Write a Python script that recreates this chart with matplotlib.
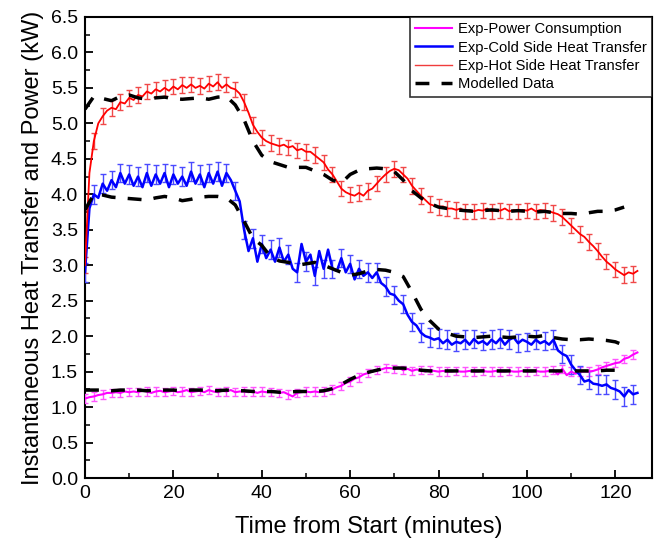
import matplotlib
matplotlib.use("Agg")
from matplotlib import pyplot as plt
from matplotlib.ticker import MultipleLocator, FormatStrFormatter
from matplotlib.lines import Line2D

# experimental data, sampled every minute
time_exp = list(range(0, 126))

hot_exp = [3.0, 4.3, 4.75, 5.0, 5.1, 5.18, 5.22, 5.2, 5.3, 5.28,
           5.36, 5.33, 5.4, 5.38, 5.45, 5.42, 5.48, 5.45, 5.5, 5.46,
           5.52, 5.48, 5.54, 5.5, 5.55, 5.5, 5.53, 5.49, 5.56, 5.52,
           5.58, 5.5, 5.55, 5.5, 5.48, 5.42, 5.3, 5.15, 4.98, 4.88,
           4.8, 4.75, 4.72, 4.7, 4.68, 4.7, 4.66, 4.68, 4.62, 4.64,
           4.6, 4.6, 4.55, 4.5, 4.45, 4.35, 4.28, 4.18, 4.08, 4.03,
           4.0, 3.98, 4.02, 3.98, 4.05, 4.08, 4.15, 4.22, 4.28, 4.33,
           4.36, 4.34, 4.28, 4.22, 4.12, 4.05, 3.98, 3.92, 3.86, 3.84,
           3.82, 3.83, 3.8, 3.8, 3.78, 3.8, 3.76, 3.78, 3.76, 3.78,
           3.77, 3.8, 3.76, 3.78, 3.77, 3.8, 3.76, 3.78, 3.76, 3.78,
           3.77, 3.8, 3.76, 3.78, 3.77, 3.76, 3.74, 3.72, 3.68, 3.62,
           3.56, 3.5, 3.44, 3.4, 3.33, 3.27, 3.2, 3.12, 3.05, 3.0,
           2.94, 2.9, 2.86, 2.9, 2.88, 2.92]

cold_exp = [2.9, 3.8, 4.0, 3.95, 4.15, 4.05, 4.2, 4.1, 4.3, 4.15,
            4.28, 4.12, 4.25, 4.1, 4.3, 4.12, 4.28, 4.15, 4.3, 4.1,
            4.28, 4.15, 4.25, 4.12, 4.32, 4.15, 4.28, 4.1, 4.3, 4.15,
            4.32, 4.12, 4.3, 4.2, 4.05, 3.9, 3.5, 3.2, 3.38, 3.05,
            3.3, 3.1, 3.22, 3.05, 3.25, 3.05, 3.15, 2.95, 2.9, 3.3,
            3.05, 3.15, 2.85, 3.2, 2.95, 3.22, 2.95, 2.92, 3.1, 2.9,
            3.02, 2.8, 2.95, 2.85, 2.9, 2.82, 2.9, 2.75, 2.7, 2.6,
            2.58, 2.5, 2.45, 2.3, 2.2, 2.15, 2.05, 2.0, 1.98, 1.95,
            1.97, 1.9, 1.95, 1.88, 1.92, 1.9, 1.95, 1.88, 1.96, 1.9,
            1.93, 1.88, 1.95, 1.9, 1.97, 1.88, 1.95, 1.98, 1.9, 1.95,
            1.92, 1.88, 1.95, 1.9, 1.93, 1.88, 1.95, 1.8, 1.75, 1.72,
            1.6, 1.52, 1.45, 1.36, 1.38, 1.33, 1.32, 1.3, 1.32, 1.27,
            1.25, 1.22, 1.15, 1.24, 1.18, 1.2]

power_exp = [1.12, 1.14, 1.15, 1.17, 1.18, 1.2, 1.2, 1.21, 1.2, 1.22,
             1.21, 1.22, 1.21, 1.23, 1.22, 1.2, 1.22, 1.23, 1.21, 1.22,
             1.23, 1.21, 1.22, 1.24, 1.21, 1.22, 1.23, 1.21, 1.24, 1.22,
             1.21, 1.23, 1.22, 1.24, 1.21, 1.22, 1.22, 1.21, 1.22, 1.2,
             1.22, 1.21, 1.21, 1.22, 1.2, 1.21, 1.18, 1.15, 1.2, 1.21,
             1.22, 1.21, 1.22, 1.21, 1.22, 1.23, 1.25, 1.28, 1.3, 1.34,
             1.36, 1.4, 1.42, 1.46, 1.48, 1.5, 1.52, 1.53, 1.55, 1.55,
             1.54, 1.56, 1.52, 1.54, 1.51, 1.53, 1.52, 1.5, 1.52, 1.51,
             1.5, 1.51, 1.5, 1.5, 1.51, 1.5, 1.5, 1.51, 1.5, 1.5,
             1.51, 1.5, 1.5, 1.51, 1.5, 1.5, 1.51, 1.5, 1.5, 1.51,
             1.5, 1.5, 1.51, 1.5, 1.5, 1.51, 1.52, 1.46, 1.54, 1.45,
             1.5, 1.47, 1.5, 1.5, 1.5, 1.51, 1.53, 1.56, 1.58, 1.6,
             1.62, 1.63, 1.68, 1.7, 1.74, 1.77]

hot_err = 0.11
cold_err = 0.13
power_err = 0.06

# modelled data, every 2 minutes
time_model = list(range(0, 124, 2))

hot_model = [5.2, 5.38, 5.35, 5.32, 5.38, 5.4, 5.36, 5.34, 5.36, 5.37,
             5.35, 5.34, 5.35, 5.36, 5.34, 5.37, 5.38, 5.26, 5.05, 4.75,
             4.55, 4.46, 4.42, 4.38, 4.38, 4.38, 4.33, 4.28, 4.2, 4.16,
             4.28, 4.34, 4.36, 4.37, 4.36, 4.32, 4.2, 4.05, 3.95, 3.87,
             3.82, 3.8, 3.78, 3.77, 3.76, 3.77, 3.78, 3.77, 3.76, 3.77,
             3.76, 3.75, 3.76, 3.74, 3.73, 3.73, 3.72, 3.74, 3.76, 3.76,
             3.78, 3.82]

cold_model = [3.78, 4.0, 3.99, 3.96, 3.95, 3.94, 3.93, 3.92, 3.95, 3.97,
              3.95, 3.91, 3.93, 3.96, 3.97, 3.97, 3.95, 3.85, 3.62, 3.38,
              3.28, 3.12, 3.06, 3.04, 3.0, 3.02, 3.04, 3.0, 2.95, 2.9,
              2.86, 2.88, 2.92, 2.94, 2.93, 2.9, 2.84, 2.62, 2.38, 2.22,
              2.1, 2.04, 2.0, 1.99, 1.98, 1.99, 2.0, 1.99, 1.98, 1.99,
              2.0, 1.99, 2.01, 1.98, 1.96, 1.95, 1.95, 1.96, 1.95, 1.94,
              1.92, 1.87]

power_model = [1.24, 1.24, 1.24, 1.23, 1.24, 1.24, 1.24, 1.23, 1.24, 1.24,
               1.24, 1.23, 1.24, 1.24, 1.24, 1.23, 1.24, 1.23, 1.23, 1.22,
               1.22, 1.22, 1.21, 1.21, 1.22, 1.22, 1.22, 1.23, 1.26, 1.32,
               1.39, 1.45, 1.49, 1.52, 1.55, 1.55, 1.55, 1.54, 1.52, 1.51,
               1.51, 1.51, 1.51, 1.51, 1.51, 1.51, 1.51, 1.51, 1.51, 1.51,
               1.51, 1.51, 1.51, 1.51, 1.51, 1.51, 1.51, 1.51, 1.51, 1.52,
               1.52, 1.52]

plt.rcParams['font.family'] = ['Liberation Sans', 'DejaVu Sans']

fig = plt.figure(figsize=(6.61, 5.48), dpi=100)
ax = fig.add_axes([0.1286, 0.1277, 0.8578, 0.8413])

dash = (0, (4, 3.5))

ax.errorbar(time_exp, power_exp, yerr=power_err, color='#ff00ff', lw=1.5,
            ecolor='#ff55ff', elinewidth=1, capsize=2, errorevery=2, zorder=3)
ax.errorbar(time_exp, cold_exp, yerr=cold_err, color='#0000ff', lw=1.8,
            ecolor='#4a4aff', elinewidth=1, capsize=2, errorevery=2, zorder=3)
ax.errorbar(time_exp, hot_exp, yerr=hot_err, color='#ff0000', lw=1.3,
            ecolor='#f04848', elinewidth=1, capsize=2, errorevery=2, zorder=3)

ax.plot(time_model, hot_model, color='black', ls=dash, lw=2.5, zorder=4)
ax.plot(time_model, cold_model, color='black', ls=dash, lw=2.5, zorder=4)
ax.plot(time_model, power_model, color='black', ls=dash, lw=2.5, zorder=4)

ax.set_xlim(0, 128.3)
ax.set_ylim(0, 6.5)
ax.xaxis.set_major_locator(MultipleLocator(20))
ax.xaxis.set_minor_locator(MultipleLocator(10))
ax.yaxis.set_major_locator(MultipleLocator(0.5))
ax.yaxis.set_minor_locator(MultipleLocator(0.25))
ax.yaxis.set_major_formatter(FormatStrFormatter('%.1f'))
ax.tick_params(which='major', direction='in', length=6, width=1.3, labelsize=14, pad=5)
ax.tick_params(which='minor', direction='in', length=3.5, width=1.1)
for sp in ax.spines.values():
    sp.set_linewidth(1.5)

ax.set_xlabel('Time from Start (minutes)', fontsize=17, labelpad=10)
ax.set_ylabel('Instantaneous Heat Transfer and Power (kW)', fontsize=17, labelpad=5)

handles = [Line2D([], [], color='#ff00ff', lw=1.5),
           Line2D([], [], color='#0000ff', lw=1.8),
           Line2D([], [], color='#f03c3c', lw=1.0),
           Line2D([], [], color='black', ls=dash, lw=2.5)]
labels = ['Exp-Power Consumption', 'Exp-Cold Side Heat Transfer',
          'Exp-Hot Side Heat Transfer', 'Modelled Data']
leg = ax.legend(handles, labels, loc='upper right', borderaxespad=0, fontsize=10.6,
                frameon=True, fancybox=False, edgecolor='black', handlelength=2.5,
                handletextpad=0.4, labelspacing=0.3, borderpad=0.35)
leg.get_frame().set_linewidth(1.2)

plt.savefig('out.png', dpi=100)
